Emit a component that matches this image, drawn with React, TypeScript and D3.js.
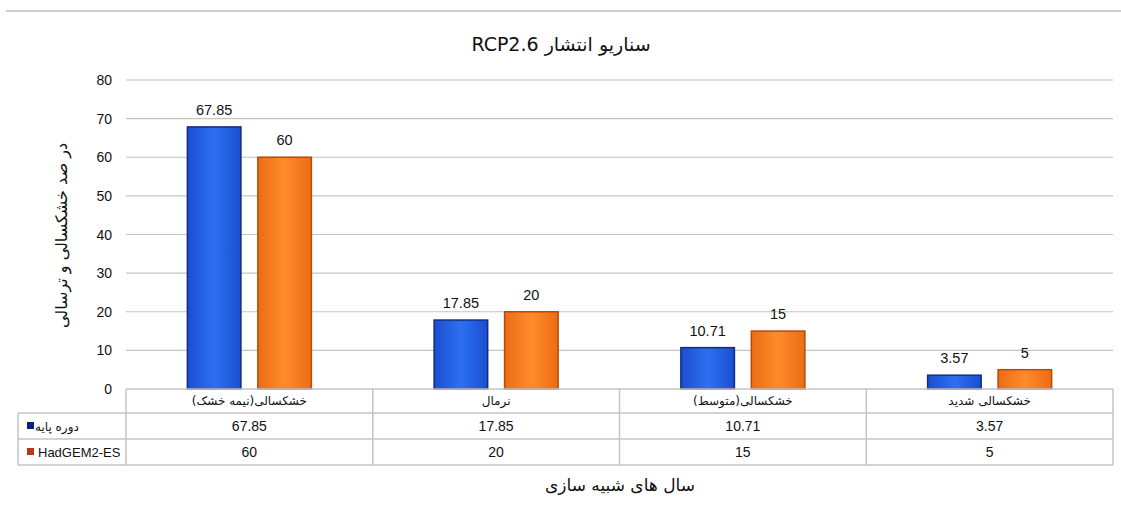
import React from "react";
import * as d3 from "d3";

// chart data
const categories = ["خشکسالی(نیمه خشک)", "نرمال", "خشکسالی(متوسط)", "خشکسالی شدید"];
const seriesNames = ["دوره پایه", "HadGEM2-ES"];
const baseValues = [67.85, 17.85, 10.71, 3.57];
const hadgemValues = [60, 20, 15, 5];
const yTicks = [0, 10, 20, 30, 40, 50, 60, 70, 80];

const W = 1121;
const H = 513;
const plotLeft = 126;
const plotRight = 1113;
const plotTop = 80;
const plotBottom = 389;
const tableLeft = 18;
const rowH = [24, 26, 26];

const numFont = "'Liberation Sans', Arial, sans-serif";
const faFont = "'DejaVu Sans', sans-serif";

const App: React.FC = () => {
    const x = d3.scaleBand<string>().domain(categories).range([plotLeft, plotRight]).padding(0);
    const y = d3.scaleLinear().domain([0, 80]).range([plotBottom, plotTop]);
    const sub = d3.scaleBand<string>().domain(seriesNames).range([-62, 62]).paddingInner(0.24);

    const series = [
        { name: seriesNames[0], values: baseValues, fill: "url(#gBlue)", stroke: "#142a86", key: "#0f1f80" },
        { name: seriesNames[1], values: hadgemValues, fill: "url(#gOrange)", stroke: "#b44c0c", key: "#b5391c" },
    ];

    const r0 = plotBottom;
    const r1 = r0 + rowH[0];
    const r2 = r1 + rowH[1];
    const r3 = r2 + rowH[2];
    const grid = "#c4c4c4";

    return (
        <svg width={W} height={H} style={{ position: "absolute", left: 0, top: 0, background: "#fff" }}>
            <defs>
                <linearGradient id="gBlue" x1="0" x2="1" y1="0" y2="0">
                    <stop offset="0" stopColor="#1a4fcf" />
                    <stop offset="0.5" stopColor="#2d6ff2" />
                    <stop offset="1" stopColor="#1a4fcf" />
                </linearGradient>
                <linearGradient id="gOrange" x1="0" x2="1" y1="0" y2="0">
                    <stop offset="0" stopColor="#ec6c14" />
                    <stop offset="0.5" stopColor="#ff8b2c" />
                    <stop offset="1" stopColor="#ec6c14" />
                </linearGradient>
            </defs>

            <line x1={6} x2={W} y1={11} y2={11} stroke="#bdbdbd" strokeWidth={1.5} />

            <text x={561} y={51} textAnchor="middle" direction="rtl" fontFamily={faFont} fontSize={19} fill="#111">
                سناریو انتشار RCP2.6
            </text>

            {/* gridlines + y ticks */}
            {yTicks.map((t) => (
                <g key={t}>
                    {t > 0 && <line x1={plotLeft} x2={plotRight} y1={y(t)} y2={y(t)} stroke={grid} strokeWidth={1.2} />}
                    <text x={112} y={y(t) + 5} textAnchor="end" fontFamily={numFont} fontSize={14} fill="#111">
                        {t}
                    </text>
                </g>
            ))}

            <text
                transform={`translate(67,${(plotTop + plotBottom) / 2 + 1}) rotate(-90)`}
                textAnchor="middle"
                direction="rtl"
                fontFamily={faFont}
                fontSize={16}
                fill="#111"
            >
                در صد خشکسالی و ترسالی
            </text>

            {/* bars */}
            {categories.map((c, i) => {
                const cx = x(c)! + x.bandwidth() / 2;
                return (
                    <g key={c}>
                        {series.map((s) => {
                            const v = s.values[i];
                            const bx = cx + sub(s.name)!;
                            return (
                                <g key={s.name}>
                                    <rect
                                        x={bx}
                                        y={y(v)}
                                        width={sub.bandwidth()}
                                        height={plotBottom - y(v)}
                                        fill={s.fill}
                                        stroke={s.stroke}
                                        strokeWidth={1.5}
                                    />
                                    <text
                                        x={bx + sub.bandwidth() / 2}
                                        y={y(v) - 12}
                                        textAnchor="middle"
                                        fontFamily={numFont}
                                        fontSize={14.5}
                                        fill="#111"
                                    >
                                        {v}
                                    </text>
                                </g>
                            );
                        })}
                    </g>
                );
            })}

            {/* data table */}
            <g stroke={grid} strokeWidth={1.5} fill="none">
                <line x1={plotLeft} x2={plotRight} y1={r0} y2={r0} />
                <line x1={tableLeft} x2={plotRight} y1={r1} y2={r1} />
                <line x1={tableLeft} x2={plotRight} y1={r2} y2={r2} />
                <line x1={tableLeft} x2={plotRight} y1={r3} y2={r3} />
                <line x1={tableLeft} x2={tableLeft} y1={r1} y2={r3} />
                {categories.map((c) => (
                    <line key={c} x1={x(c)!} x2={x(c)!} y1={r0} y2={r3} />
                ))}
                <line x1={plotRight} x2={plotRight} y1={r0} y2={r3} />
            </g>

            {categories.map((c, i) => {
                const cx = x(c)! + x.bandwidth() / 2;
                return (
                    <g key={c}>
                        <text x={cx} y={r0 + 16} textAnchor="middle" direction="rtl" fontFamily={faFont} fontSize={12} fill="#111">
                            {c}
                        </text>
                        {series.map((s, j) => (
                            <text
                                key={s.name}
                                x={cx}
                                y={(j === 0 ? r1 : r2) + 18}
                                textAnchor="middle"
                                fontFamily={numFont}
                                fontSize={14}
                                fill="#111"
                            >
                                {s.values[i]}
                            </text>
                        ))}
                    </g>
                );
            })}

            {/* legend keys in table */}
            {series.map((s, j) => {
                const ry = j === 0 ? r1 : r2;
                return (
                    <g key={s.name}>
                        <rect x={27} y={ry + 9} width={7} height={7} fill={s.key} />
                        <text
                            x={j === 0 ? 35 : 38}
                            y={ry + 18}
                            fontFamily={j === 0 ? faFont : numFont}
                            fontSize={j === 0 ? 12 : 13}
                            fill="#111"
                        >
                            {s.name}
                        </text>
                    </g>
                );
            })}

            <text x={620} y={491} textAnchor="middle" direction="rtl" fontFamily={faFont} fontSize={17} fill="#111">
                سال های شبیه سازی
            </text>
        </svg>
    );
};

export default App;
